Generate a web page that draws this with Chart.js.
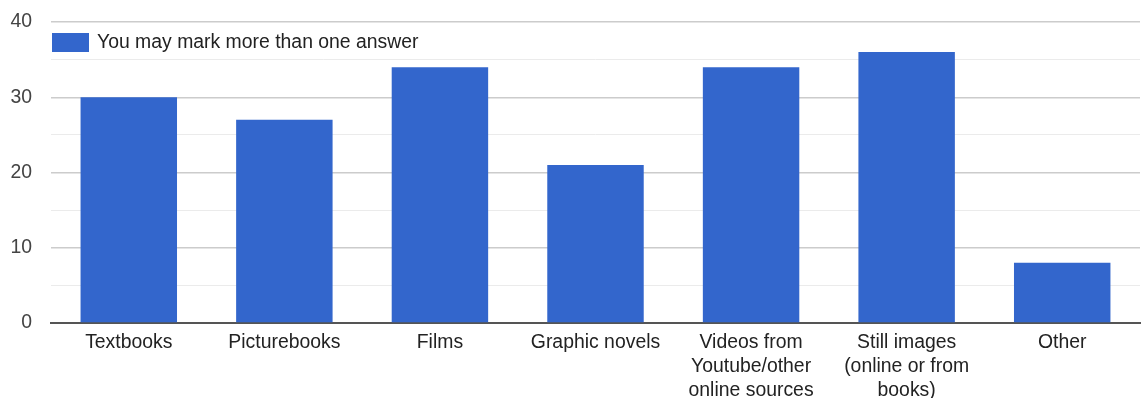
<!DOCTYPE html>
<html>
<head>
<meta charset="utf-8">
<script src="https://cdn.jsdelivr.net/npm/chart.js@4.4.0/dist/chart.umd.min.js"></script>
<style>
	body { margin: 0; background: #fff; }
	#wrap { width: 1142px; height: 398px; }
</style>
</head>
<body>
<div id="wrap"><canvas id="chart" width="1142" height="398"></canvas></div>
<script>
var categories = ['Textbooks', 'Picturebooks', 'Films', 'Graphic novels',
	['Videos from', 'Youtube/other', 'online sources'],
	['Still images', '(online or from', 'books)'],
	'Other'];
var seriesLabel = 'You may mark more than one answer';
var counts = [30, 27, 34, 21, 34, 36, 8];
var yTicks = [0, 10, 20, 30, 40];

var barColor = '#3366cc';
var fontFamily = 'Arial, "Liberation Sans", sans-serif';
var fontSize = 19.4;

// legend sits inside the plot area, top-left
var insideLegend = {
	id: 'insideLegend',
	afterDraw: function (chart) {
		var ctx = chart.ctx;
		var area = chart.chartArea;
		var x = area.left + 1;
		var y = area.top + 11;
		ctx.save();
		ctx.fillStyle = barColor;
		ctx.fillRect(x, y, 37, 19);
		ctx.fillStyle = '#222';
		ctx.font = fontSize + 'px ' + fontFamily;
		ctx.textBaseline = 'middle';
		ctx.fillText(chart.data.datasets[0].label, x + 45, y + 10);
		ctx.restore();
	}
};

var context = document.getElementById('chart').getContext('2d');
var chart = new Chart(context, {
	type: 'bar',
	data: {
		labels: categories,
		datasets: [{
			label: seriesLabel,
			data: counts,
			backgroundColor: barColor,
			borderWidth: 0,
			categoryPercentage: 1,
			barPercentage: 0.62
		}]
	},
	options: {
		responsive: false,
		animation: false,
		layout: { padding: { top: 22, right: 2, left: 0, bottom: 0 } },
		plugins: {
			legend: { display: false },
			tooltip: { enabled: false }
		},
		scales: {
			x: {
				grid: { display: false },
				border: { color: '#555', width: 2 },
				ticks: {
					color: '#222',
					padding: 0,
					maxRotation: 0,
					autoSkip: false,
					font: { family: fontFamily, size: fontSize, lineHeight: 1.24 }
				},
				afterFit: function (scale) { scale.height = 75; }
			},
			y: {
				min: 0,
				max: 40,
				border: { display: false },
				grid: {
					drawTicks: false,
					color: function (c) {
						if (c.tick.value === 0) return 'rgba(0,0,0,0)';
						return c.tick.value % 10 === 0 ? '#cccccc' : '#ebebeb';
					},
					lineWidth: function (c) {
						return c.tick.value % 10 === 0 ? 1.5 : 1;
					}
				},
				ticks: {
					stepSize: 5,
					padding: 19,
					color: '#444',
					font: { family: fontFamily, size: fontSize },
					callback: function (v) {
						return yTicks.indexOf(v) >= 0 ? v : '';
					}
				},
				afterFit: function (scale) {
					scale.width = 51;
					scale.paddingTop = 0;
					scale.paddingBottom = 0;
				}
			}
		}
	},
	plugins: [insideLegend]
});
</script>
</body>
</html>
